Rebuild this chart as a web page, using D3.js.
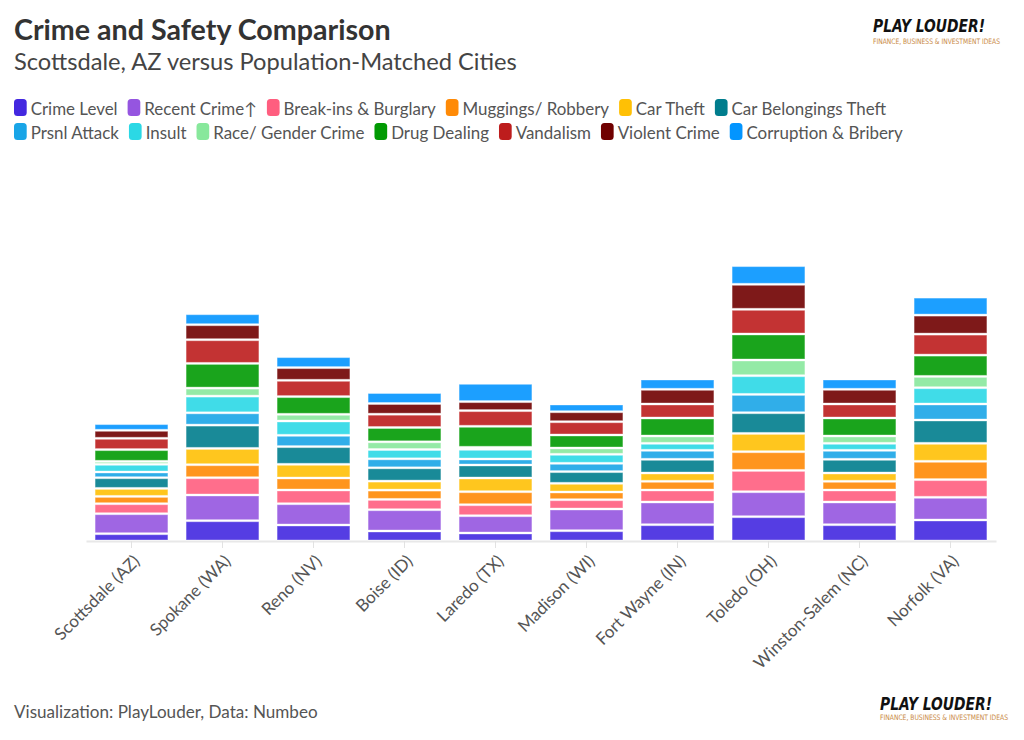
<!DOCTYPE html>
<html>
<head>
<meta charset="utf-8">
<script src="https://cdn.jsdelivr.net/npm/d3@7"></script>
<style>
  body { margin: 0; background: #fff; }
  svg { display: block; font-family: Lato, "Open Sans", sans-serif; }
</style>
</head>
<body>
<svg id="chart" width="1024" height="740"></svg>
<script>
// ---------------- DATA ----------------
const cities = ["Scottsdale (AZ)", "Spokane (WA)", "Reno (NV)", "Boise (ID)", "Laredo (TX)",
  "Madison (WI)", "Fort Wayne (IN)", "Toledo (OH)", "Winston-Salem (NC)", "Norfolk (VA)"];

const seriesNames = ["Crime Level", "Recent Crime\u2191", "Break-ins & Burglary", "Muggings/ Robbery",
  "Car Theft", "Car Belongings Theft", "Prsnl Attack", "Insult", "Race/ Gender Crime",
  "Drug Dealing", "Vandalism", "Violent Crime", "Corruption & Bribery"];

const seriesColors = ["#4328e0", "#9555e0", "#ff5e7f", "#ff8a06", "#ffc005", "#007d8d",
  "#19a5e7", "#2bd8e5", "#88e89c", "#019a03", "#bd1d1d", "#700000", "#0395ff"];

const crimeLevel    = [7.3, 20.3, 16.0, 10.0, 8.0, 10.3, 16.3, 24.3, 16.3, 21.0];
const recentCrime   = [20.0, 25.7, 21.3, 21.3, 17.3, 21.7, 22.7, 25.0, 22.7, 22.7];
const breakIns      = [10.0, 17.3, 13.7, 10.3, 11.0, 9.3, 12.0, 21.3, 12.0, 17.7];
const muggings      = [7.3, 13.0, 12.0, 9.3, 13.0, 7.7, 8.7, 18.7, 8.7, 18.3];
const carTheft      = [8.0, 16.3, 13.7, 9.0, 13.7, 8.7, 8.3, 18.3, 8.3, 18.0];
const carBelongings = [10.7, 23.3, 17.7, 13.3, 13.0, 11.7, 13.7, 20.7, 13.7, 23.3];
const prsnlAttack   = [5.7, 12.3, 11.3, 9.0, 6.0, 8.3, 9.0, 18.3, 9.0, 16.0];
const insult        = [7.7, 16.7, 14.3, 9.3, 9.7, 9.0, 7.0, 18.7, 7.0, 16.3];
const raceGender    = [3.0, 8.0, 6.7, 7.7, 2.0, 6.3, 7.3, 15.7, 7.3, 11.3];
const drugDealing   = [11.7, 24.7, 17.7, 14.3, 21.0, 13.0, 18.0, 26.0, 18.0, 21.3];
const vandalism     = [11.3, 23.7, 16.3, 13.3, 15.7, 13.3, 14.0, 24.7, 14.0, 21.0];
const violentCrime  = [8.0, 15.0, 12.7, 10.7, 9.0, 10.0, 14.7, 25.0, 14.7, 19.0];
const corruption    = [6.7, 11.0, 11.0, 11.0, 18.3, 7.7, 10.3, 18.7, 10.3, 18.0];

const seriesValues = [crimeLevel, recentCrime, breakIns, muggings, carTheft, carBelongings,
  prsnlAttack, insult, raceGender, drugDealing, vandalism, violentCrime, corruption];

const titleText = "Crime and Safety Comparison";
const subtitleText = "Scottsdale, AZ versus Population-Matched Cities";
const footerText = "Visualization: PlayLouder, Data: Numbeo";
const logoTitle = "PLAY LOUDER!";
const logoSub = "FINANCE, BUSINESS & INVESTMENT IDEAS";

// ---------------- CHART ----------------
const W = 1024, H = 740;
const svg = d3.select("#chart");
svg.append("rect").attr("width", W).attr("height", H).attr("fill", "#fff");

function fitText(sel, target) {
  const w = sel.node().getComputedTextLength();
  const fs = parseFloat(sel.attr("font-size"));
  const nfs = fs * target / w;
  sel.attr("font-size", nfs);
  return nfs;
}

// Title / subtitle
const title = svg.append("text").attr("x", 14).attr("y", 40)
  .attr("font-weight", 700).attr("font-size", 26).attr("fill", "#333").text(titleText);
fitText(title, 377);
const subtitle = svg.append("text").attr("x", 14).attr("y", 70)
  .attr("font-size", 22).attr("fill", "#444").text(subtitleText);
fitText(subtitle, 503);

// Logo
function drawLogo(x0, yTitle, yTitleLen, ySub, subLen, titleSize, subSize) {
  const g = svg.append("g");
  g.append("text").attr("x", x0).attr("y", yTitle)
    .attr("font-family", "'Liberation Sans Narrow', 'DejaVu Sans Condensed', 'Liberation Sans', sans-serif")
    .attr("font-weight", 700).attr("font-style", "italic").attr("font-size", titleSize)
    .attr("fill", "#111").attr("textLength", yTitleLen).attr("lengthAdjust", "spacingAndGlyphs")
    .text(logoTitle);
  g.append("text").attr("x", x0).attr("y", ySub)
    .attr("font-family", "'Liberation Sans Narrow', 'DejaVu Sans Condensed', 'Liberation Sans', sans-serif")
    .attr("font-weight", 400).attr("font-size", subSize)
    .attr("fill", "#c98a45").attr("textLength", subLen).attr("lengthAdjust", "spacingAndGlyphs")
    .text(logoSub);
}
drawLogo(873, 32, 112, 44, 127, 17, 7.5);
drawLogo(880, 710, 112, 720, 128, 17, 7.5);

// Legend
const legend = svg.append("g");
const legProbe = legend.append("text").attr("font-size", 17).text(seriesNames[0]);
const legFS = fitText(legProbe, 87);
legProbe.remove();
let lx = 14, row = 0;
const rowBase = [115, 139];
seriesNames.forEach((name, i) => {
  const t = legend.append("text").attr("font-size", legFS).attr("fill", "#555").text(name);
  const tw = t.node().getComputedTextLength();
  const itemW = 12.7 + 4 + tw;
  if (lx + itemW > 950 && lx > 14) { row += 1; lx = 14; }
  const by = rowBase[row];
  legend.append("rect").attr("x", lx).attr("y", by - 16).attr("width", 12.7).attr("height", 17)
    .attr("rx", 3.5).attr("fill", seriesColors[i]);
  t.attr("x", lx + 16.7).attr("y", by);
  lx += itemW + 10;
});

// Scales
const x = d3.scaleBand().domain(cities).range([86, 996]).paddingInner(0.2).paddingOuter(0.1);
const y = d3.scaleLinear().domain([0, 280]).range([541, 261]);
const color = d3.scaleOrdinal().domain(seriesNames).range(seriesColors);

// Axis
const ax = svg.append("g").attr("transform", "translate(0,541)")
  .call(d3.axisBottom(x).tickSize(7).tickSizeOuter(0));
ax.attr("font-family", null).attr("font-size", null);
ax.select(".domain").attr("stroke", "#e8e8e8").attr("stroke-width", 2);
ax.selectAll(".tick line").attr("stroke", "#e2e2e2");
const tickTexts = ax.selectAll(".tick text")
  .attr("transform", "rotate(-45)").attr("text-anchor", "end")
  .attr("x", -8.5).attr("y", 21.5).attr("dy", 0).attr("fill", "#555").attr("font-size", 16);
const probeTick = tickTexts.filter((d, i) => i === 0);
const tickFS = fitText(probeTick, 112);
tickTexts.attr("font-size", tickFS);

// Stacked bars
const rows = cities.map((c, i) => {
  const r = { city: c };
  seriesNames.forEach((s, j) => { r[s] = seriesValues[j][i]; });
  return r;
});
const stacked = d3.stack().keys(seriesNames)(rows);

svg.append("g").selectAll("g").data(stacked).join("g")
  .attr("fill", d => color(d.key))
  .selectAll("rect").data(d => d).join("rect")
  .attr("x", d => x(d.data.city))
  .attr("width", x.bandwidth())
  .attr("y", d => y(d[1]) + 1)
  .attr("height", d => Math.max(0, y(d[0]) - y(d[1]) - 2))
  .attr("fill-opacity", 0.9)
  .attr("stroke", "#fff").attr("stroke-opacity", 0.35).attr("stroke-width", 1);

// Footer
const footer = svg.append("text").attr("x", 14).attr("y", 718)
  .attr("font-size", 17).attr("fill", "#555").text(footerText);
fitText(footer, 304);
</script>
</body>
</html>
